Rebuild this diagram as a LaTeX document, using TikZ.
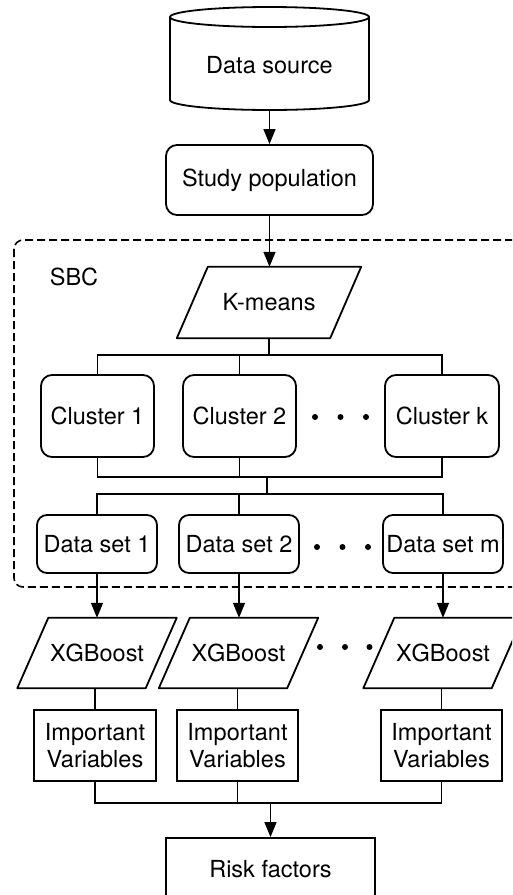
\documentclass[tikz,border=0pt]{standalone}
\usepackage{fontspec}
\setmainfont{TeX Gyre Heros}
\usetikzlibrary{arrows.meta,calc}
\newcommand\paradraw[2]{\draw[shapeline] (#1.south west) -- ([xshift=-#2]#1.south east) -- (#1.north east) -- ([xshift=#2]#1.north west) -- cycle;}
\begin{document}
\begin{tikzpicture}[x=1pt,y=1pt,
  font=\fontsize{23.5}{27}\selectfont,
  every node/.style={inner sep=0pt, align=center},
  shapeline/.style={line width=1.8pt, line join=round},
  rbox/.style={draw, line width=1.8pt, rounded corners=11pt},
  sbox/.style={draw, line width=1.8pt},
  conn/.style={line width=1.4pt},
  arr/.style={conn,-{Triangle[length=15pt,width=12pt]}},
  dotn/.style={circle, fill, inner sep=0pt, minimum size=6pt}
]
\useasboundingbox (0,0) rectangle (512,-895);
\clip (0,0) rectangle (512,-895);

% dashed SBC region
\draw[line width=1.6pt, dash pattern=on 8pt off 4pt, rounded corners=9pt] (14,-240) rectangle (545,-587);
\node (sbc) at (74,-277) {SBC};

% data source cylinder
\node (ds) at (269.5,-65) [minimum width=199pt, minimum height=90pt] {Data source};
\draw[shapeline] (170,-17) -- (170,-100) arc[start angle=180,end angle=360,x radius=99.5pt,y radius=10pt] -- (369,-17);
\draw[shapeline] (269.5,-17) ellipse [x radius=99.5pt, y radius=10pt];

\node[rbox, minimum width=207pt, minimum height=70pt] (sp) at (269.5,-180) {Study population};

% K-means
\node[minimum width=184pt, minimum height=71pt] (km) at (269,-302.5) {K-means};
\paradraw{km}{31pt}

% clusters
\node[rbox, minimum width=113pt, minimum height=82pt] (c1) at (97.5,-416) {Cluster 1};
\node[rbox, minimum width=113pt, minimum height=82pt] (c2) at (239.5,-416) {Cluster 2};
\node[rbox, minimum width=114pt, minimum height=82pt] (ck) at (442,-416) {Cluster k};
\node[dotn] (cd1) at (315,-417) {};
\node[dotn] (cd2) at (340.5,-417) {};
\node[dotn] (cd3) at (366,-417) {};

% data sets
\node[rbox, rounded corners=10pt, minimum width=120pt, minimum height=58pt] (d1) at (97,-544) {Data set 1};
\node[rbox, rounded corners=10pt, minimum width=120pt, minimum height=58pt] (d2) at (239,-544) {Data set 2};
\node[rbox, rounded corners=10pt, minimum width=120pt, minimum height=58pt] (dm) at (443,-544) {Data set m};
\node[dotn] (dd1) at (317,-547) {};
\node[dotn] (dd2) at (342.5,-547) {};
\node[dotn] (dd3) at (368,-547) {};

% XGBoost
\node[minimum width=159pt, minimum height=70pt] (x1) at (97,-653) {XGBoost};
\node[minimum width=159pt, minimum height=70pt] (x2) at (238.5,-653) {XGBoost};
\node[minimum width=159pt, minimum height=70pt] (x3) at (443,-653) {XGBoost};
\paradraw{x1}{31pt}
\paradraw{x2}{31pt}
\paradraw{x3}{31pt}
\node[dotn] (xd1) at (320,-647) {};
\node[dotn] (xd2) at (345,-647) {};
\node[dotn] (xd3) at (369.5,-647) {};

% important variables
\node[sbox, minimum width=122pt, minimum height=71pt] (iv1) at (95,-745.5) {Important\\Variables};
\node[sbox, minimum width=121pt, minimum height=71pt] (iv2) at (237.5,-745.5) {Important\\Variables};
\node[sbox, minimum width=121pt, minimum height=71pt] (iv3) at (441.5,-745.5) {Important\\Variables};

\node[sbox, minimum width=209pt, minimum height=62pt] (rf) at (270.5,-869) {Risk factors};

% connectors
\draw[arr] (ds.south) -- (sp.north);
\draw[arr] (sp.south) -- (sp.south |- km.north);

\coordinate (j1) at (269,-355);
\draw[conn] (km.south) -- (j1);
\draw[conn] (c1.north) |- (j1) -| (ck.north);
\draw[conn] (c2.north) -- (c2.north |- j1);

\coordinate (j2) at (267,-477);
\coordinate (j3) at (267,-494);
\draw[conn] (c1.south) |- (j2) -| (ck.south);
\draw[conn] (c2.south) -- (c2.south |- j2);
\draw[conn] (j2) -- (j3);
\draw[conn] (d1.north) |- (j3) -| (dm.north);
\draw[conn] (d2.north) -- (d2.north |- j3);

\draw[arr] (d1.south) -- (d1.south |- x1.north);
\draw[arr] (d2.south) -- (d2.south |- x2.north);
\draw[arr] (dm.south) -- (dm.south |- x3.north);

\draw[conn] (iv1.north |- x1.south) -- (iv1.north);
\draw[conn] (iv2.north |- x2.south) -- (iv2.north);
\draw[conn] (iv3.north |- x3.south) -- (iv3.north);

\coordinate (j4) at (270.5,-803);
\draw[conn] (iv1.south) |- (j4) -| (iv3.south);
\draw[conn] (iv2.south) -- (iv2.south |- j4);
\draw[arr] (j4) -- (rf.north);
\end{tikzpicture}
\end{document}
